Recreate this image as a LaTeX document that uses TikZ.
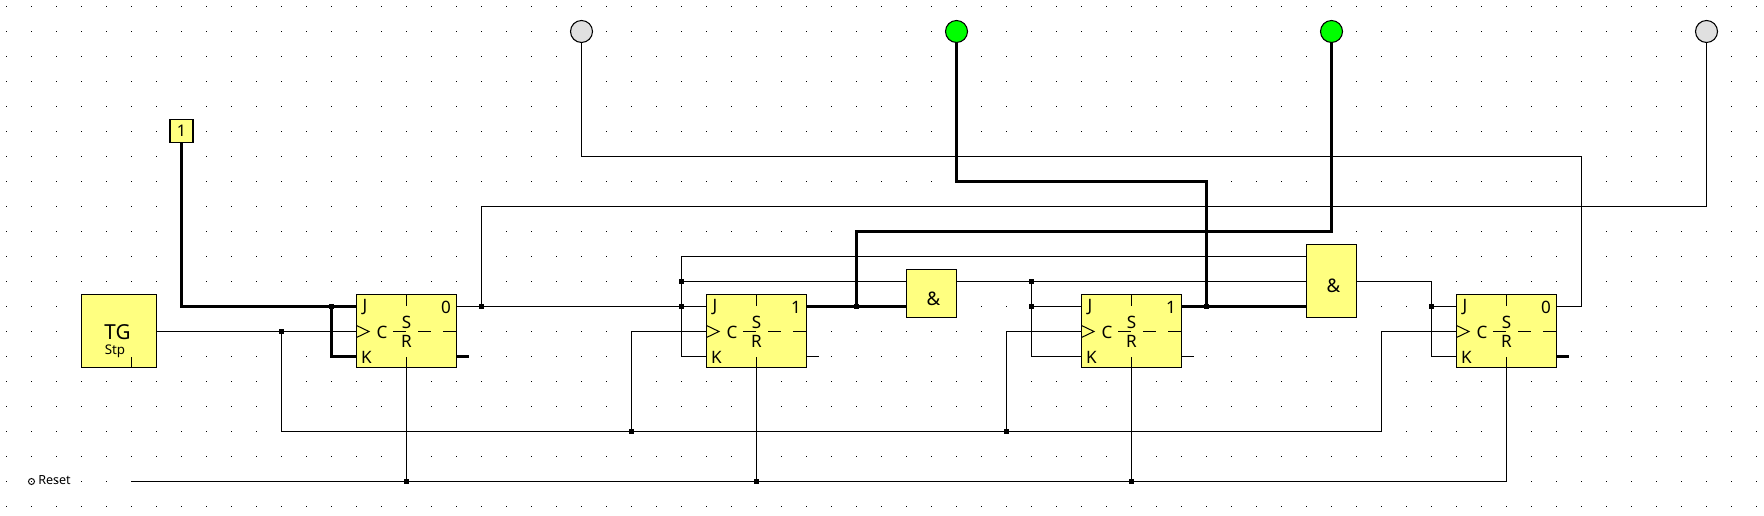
\documentclass[tikz,border=0pt]{standalone}
\usepackage{fontspec}
\setmainfont{Noto Sans}
\tikzset{
  wire/.style={line width=.75pt,draw=black},
  thickwire/.style={line width=2.6pt,draw=black},
  block/.style={draw=black,line width=.8pt,fill=yellowfill,inner sep=0pt,outer sep=0pt},
  ffbox/.style={block,minimum width=75pt,minimum height=54.75pt},
  lamp/.style={circle,draw=black,line width=.8pt,inner sep=0pt,outer sep=0pt,minimum size=16.5pt},
  junc/.style={rectangle,fill=black,inner sep=0pt,outer sep=0pt,minimum size=3.9pt},
  pinlab/.style={inner sep=0pt,font=\fontsize{12.8}{14}\selectfont},
}
\definecolor{yellowfill}{HTML}{FFFF80}
\definecolor{lampoff}{HTML}{E0E0E0}
\definecolor{lampon}{HTML}{00FF00}
\newcommand{\ffblock}[3]{%
  \begin{scope}[shift={(#2,0)}]
    \node[ffbox] (#1) at (0,331) {};
    \node[pinlab] (#1tj) at (-41.5,307) {J};
    \node[pinlab] (#1tk) at (-40,357) {K};
    \node[pinlab] (#1tc) at (-24.5,332) {C};
    \node[pinlab] (#1ts) at (0,322) {S};
    \node[pinlab] (#1tr) at (0,341.5) {R};
    \node[pinlab] (#1tq) at (39.5,307) {#3};
    \draw[wire] (#1.north) -- ++(0,11.5);
    \draw[wire] (#1.south) -- ++(0,-10.5);
    \draw[wire] (-13.5,331.5) -- (-0.5,331.5) (11.5,331.5) -- (24.5,331.5) (36.5,331.5) -- (#1.east |- 0,331.5);
    \draw[wire] (-50,325.5) -- (-37.5,331.5) -- (-50,337.5);
    \coordinate (#1J) at (-50,306.5);
    \coordinate (#1C) at (-50,331.5);
    \coordinate (#1K) at (-50,356.5);
    \coordinate (#1Q) at (50,306.5);
    \coordinate (#1N) at (50,356.5);
    \coordinate (#1E) at (62,356.5);
  \end{scope}%
}
\begin{document}
\begin{tikzpicture}[x=.75pt,y=-.75pt]
\useasboundingbox (0,0) rectangle (1764,516);
\fill[white] (0,0) rectangle (1764,516);
% grid
\foreach \i in {0,...,70}{\foreach \j in {0,...,20}{
  \fill[black] ({6+25*\i},{6+25*\j}) rectangle ++(1,1);
}}
% blocks
\node[block,minimum width=56.25pt,minimum height=54.75pt] (tg) at (119,331) {};
\node[inner sep=0pt,font=\fontsize{15.5}{17}\selectfont] (tgt) at (117.5,332) {TG};
\node[inner sep=0pt,font=\fontsize{10}{11}\selectfont] (tgs) at (115,351) {Stp};
\draw[wire] (tg.south -| 131.5,0) -- ++(0,-10);
\node[block,minimum width=17.25pt,minimum height=17.25pt,font=\fontsize{12}{14}\selectfont] (one) at (181.5,131) {1};
\ffblock{ffa}{406.5}{0}
\ffblock{ffb}{756.5}{1}
\ffblock{ffc}{1131.5}{1}
\ffblock{ffd}{1506.5}{0}
\node[block,minimum width=37.5pt,minimum height=36pt] (anda) at (931.5,293.5) {};
\node[inner sep=0pt,font=\fontsize{14}{16}\selectfont] (andat) at (933.5,298.5) {\&};
\node[block,minimum width=37.5pt,minimum height=54.75pt] (andb) at (1331.5,281) {};
\node[inner sep=0pt,font=\fontsize{14}{16}\selectfont] (andbt) at (1333.5,286) {\&};
\node[lamp,fill=lampoff] (la) at (581.5,31.5) {};
\node[lamp,fill=lampon] (lb) at (956.5,31.5) {};
\node[lamp,fill=lampon] (lc) at (1331.5,31.5) {};
\node[lamp,fill=lampoff] (ld) at (1706.5,31.5) {};
\node[circle,draw=black,line width=.7pt,inner sep=0pt,minimum size=4.5pt] (rc) at (31.5,481.5) {};
\node[inner sep=0pt,anchor=west,font=\fontsize{9.4}{11}\selectfont] (rt) at (38,480.5) {Reset};
% junctions
\foreach \n/\x/\y in {ja/331.5/306.5,jb/281.5/331.5,jc/481.5/306.5,jd/681.5/306.5,je/681.5/281.5,
  jf/856.5/306.5,jg/1031.5/281.5,jh/1031.5/306.5,ji/1206.5/306.5,jj/1431.5/306.5,
  jk/631.5/431.5,jl/1006.5/431.5,jm/406.5/481.5,jn/756.5/481.5,jo/1131.5/481.5}{
  \node[junc] (\n) at (\x,\y) {};
}
% free ends and corners
\coordinate (tgout) at (156.5,331.5);
\coordinate (clkend) at (1381.5,431.5);
\coordinate (ldcorner) at (1706.5,206.5);
\coordinate (lacorner) at (581.5,156.5);
\coordinate (qdcorner) at (1581.5,306.5);
\coordinate (topcorner) at (681.5,256.5);
\coordinate (aain) at (906.5,281.5);
\coordinate (abin) at (906.5,306.5);
\coordinate (aout) at (956.5,281.5);
\coordinate (bain) at (1306.5,256.5);
\coordinate (bbin) at (1306.5,281.5);
\coordinate (bcin) at (1306.5,306.5);
\coordinate (bout) at (1356.5,281.5);
\coordinate (boutc) at (1431.5,281.5);
\coordinate (lccorner) at (1331.5,231.5);
\coordinate (lbcorner) at (956.5,181.5);
\coordinate (rstart) at (131.5,481.5);
\coordinate (rcorner) at (1506.5,481.5);
% thick wires
\draw[thickwire] (one.south) |- (ffaJ);
\draw[thickwire] (ja.center) |- (ffaK);
\draw[thickwire] (ffaN) -- (ffaE);
\draw[thickwire] (ffdN) -- (ffdE);
\draw[thickwire] (ffbQ) -- (abin);
\draw[thickwire] (jf.center) |- (lccorner) -- (lc.south);
\draw[thickwire] (ffcQ) -- (bcin);
\draw[thickwire] (ji.center) |- (lbcorner) -- (lb.south);
% thin wires
\draw[wire] (tgout) -- (ffaC);
\draw[wire] (jb.center) |- (jk.center) -- (jl.center) -- (clkend) |- (ffdC);
\draw[wire] (jk.center) |- (ffbC);
\draw[wire] (jl.center) |- (ffcC);
\draw[wire] (ffaQ) -- (ffbJ);
\draw[wire] (jc.center) |- (ldcorner) -- (ld.south);
\draw[wire] (bain) -- (topcorner) |- (ffbK);
\draw[wire] (je.center) -- (aain);
\draw[wire] (aout) -- (bbin);
\draw[wire] (jh.center) -- (ffcJ);
\draw[wire] (jg.center) |- (ffcK);
\draw[wire] (bout) -- (boutc) |- (ffdK);
\draw[wire] (jj.center) -- (ffdJ);
\draw[wire] (ffdQ) -- (qdcorner) |- (lacorner) -- (la.south);
\draw[wire] (ffbN) -- (ffbE);
\draw[wire] (ffcN) -- (ffcE);
\draw[wire] (rstart) -- (rcorner) -- (ffd.south);
\draw[wire] (jm.center) -- (ffa.south);
\draw[wire] (jn.center) -- (ffb.south);
\draw[wire] (jo.center) -- (ffc.south);
\end{tikzpicture}
\end{document}
